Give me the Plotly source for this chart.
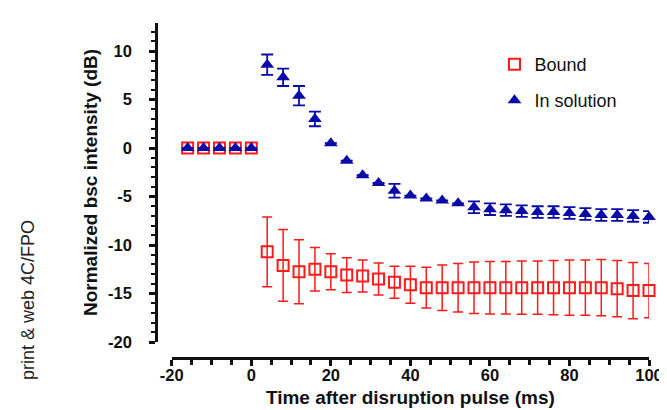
import plotly.graph_objects as go

# ---- data ----
time_ms = [-16, -12, -8, -4, 0, 4, 8, 12, 16, 20, 24, 28, 32, 36, 40, 44, 48, 52,
           56, 60, 64, 68, 72, 76, 80, 84, 88, 92, 96, 100]

bound_db = [0, 0, 0, 0, 0, -10.7, -12.1, -12.75, -12.5, -12.75, -13.1, -13.2, -13.5,
            -13.85, -14.1, -14.4, -14.4, -14.4, -14.4, -14.4, -14.4, -14.4, -14.4,
            -14.4, -14.4, -14.4, -14.4, -14.5, -14.7, -14.7]
bound_err = [0, 0, 0, 0, 0, 3.6, 3.7, 3.3, 2.25, 1.85, 1.8, 1.65, 1.65, 1.65, 1.9,
             2.1, 2.35, 2.5, 2.65, 2.7, 2.7, 2.75, 2.75, 2.8, 2.85, 2.85, 2.9, 2.9,
             2.9, 2.8]

solution_db = [0, 0, 0, 0, 0, 8.6, 7.3, 5.4, 3.0, 0.5, -1.3, -2.8, -3.6, -4.4, -4.9,
               -5.2, -5.4, -5.7, -6.1, -6.3, -6.4, -6.5, -6.6, -6.6, -6.7, -6.8,
               -6.9, -6.9, -7.0, -7.1]
solution_err = [0, 0, 0, 0, 0, 1.05, 0.9, 1.0, 0.75, 0, 0, 0, 0, 0.7, 0,
                0, 0, 0, 0.6, 0.6, 0.6, 0.6, 0.6, 0.6, 0.6, 0.6, 0.6, 0.6,
                0.6, 0.6]

x_ticks = [-20, 0, 20, 40, 60, 80, 100]
y_ticks = [-20, -15, -10, -5, 0, 5, 10]

RED = "#ff1a1a"
BLUE = "#0a0aa8"
FONT = "Arial, Liberation Sans, Helvetica, sans-serif"

fig = go.Figure()
fig.add_trace(go.Scatter(
    x=time_ms, y=bound_db, name="Bound", mode="markers",
    marker=dict(symbol="square-open", size=11, color=RED, line=dict(width=2, color=RED)),
    error_y=dict(type="data", array=bound_err, visible=True, color=RED,
                 thickness=1.5, width=5),
    cliponaxis=False, legend="legend",
))
fig.add_trace(go.Scatter(
    x=time_ms, y=solution_db, name="In solution", mode="markers",
    marker=dict(symbol="triangle-up", size=12, color=BLUE),
    error_y=dict(type="data", array=solution_err, visible=True, color=BLUE,
                 thickness=1.8, width=6),
    cliponaxis=False, legend="legend2",
))

L, R_PX, T, B_PX = 148, 649, 15, 350
W, H = 667, 410
pw = R_PX - L
ph = B_PX - T

def px_x(p):
    return (p - L) / pw

def px_y(p):
    return (B_PX - p) / ph

tickfont = dict(size=16.5, family=FONT, color="#111", weight="bold")
legfont = dict(size=18, family=FONT, color="#111")

fig.update_layout(
    width=W, height=H,
    margin=dict(l=L, r=W - R_PX, t=T, b=H - B_PX, pad=0),
    paper_bgcolor="white", plot_bgcolor="white",
    font=dict(family=FONT, color="#111"),
    xaxis=dict(
        range=[-20, 100], domain=[px_x(164), 1], anchor="free", position=0,
        tickmode="array", tickvals=x_ticks, ticktext=[str(v) for v in x_ticks],
        ticks="outside", ticklen=6, tickwidth=2.5, tickcolor="#111",
        minor=dict(dtick=5, tick0=0, ticks="outside", ticklen=5, tickwidth=2.5,
                   tickcolor="#111"),
        showline=True, linecolor="#111", linewidth=2.5, showgrid=False, zeroline=False,
        tickfont=tickfont, ticklabelstandoff=-5,
        title=dict(text="<b>Time after disruption pulse (ms)</b>",
                   font=dict(size=19, family=FONT, color="#111"), standoff=8),
    ),
    yaxis=dict(
        range=[-20, 12.9], domain=[px_y(334), 1], anchor="free", position=0,
        tickmode="array", tickvals=y_ticks, ticktext=[str(v) for v in y_ticks],
        ticks="outside", ticklen=6, tickwidth=2.5, tickcolor="#111",
        minor=dict(dtick=1, tick0=0, ticks="outside", ticklen=4, tickwidth=2,
                   tickcolor="#111"),
        showline=True, linecolor="#111", linewidth=2.5, showgrid=False, zeroline=False,
        tickfont=tickfont, ticklabelstandoff=14,
        title=dict(text="<b>Normalized bsc intensity (dB)</b>",
                   font=dict(size=19, family=FONT, color="#111"), standoff=4),
    ),
    legend=dict(x=px_x(492), y=px_y(38), xanchor="left", yanchor="top",
                bgcolor="rgba(0,0,0,0)", font=legfont, itemwidth=30),
    legend2=dict(x=px_x(492), y=px_y(74), xanchor="left", yanchor="top",
                 bgcolor="rgba(0,0,0,0)", font=legfont, itemwidth=30),
    showlegend=True,
    annotations=[dict(
        text="print & web 4C/FPO", xref="paper", yref="paper",
        x=px_x(18), y=px_y(292), xanchor="center", yanchor="middle",
        textangle=-90, showarrow=False,
        font=dict(size=18, family=FONT, color="#222"),
    )],
)

fig.write_html("out.html")
